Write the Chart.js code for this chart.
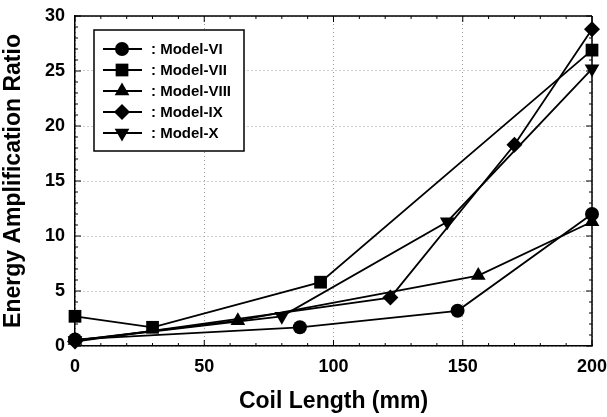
<!DOCTYPE html>
<html>
<head>
<meta charset="utf-8">
<script src="https://cdn.jsdelivr.net/npm/chart.js@4.4.1/dist/chart.umd.min.js"></script>
<style>
  html, body { margin: 0; padding: 0; background: #fff; }
  #wrap { width: 607px; height: 417px; }
</style>
</head>
<body>
<div id="wrap"><canvas id="chartCoil" width="607" height="417"></canvas></div>
<script>
// values
var modelNames = [": Model-VI", ": Model-VII", ": Model-VIII", ": Model-IX", ": Model-X"];

var vi_len   = [0, 87, 148, 200];
var vi_ratio = [0.6, 1.7, 3.2, 12.0];

var vii_len   = [0, 30, 95, 200];
var vii_ratio = [2.7, 1.7, 5.8, 26.9];

var viii_len   = [0, 63, 156, 200];
var viii_ratio = [0.5, 2.3, 6.4, 11.3];

var ix_len   = [0, 122, 170, 200];
var ix_ratio = [0.4, 4.4, 18.3, 28.8];

var x_len   = [0, 80, 144, 200];
var x_ratio = [0.5, 2.7, 11.3, 25.2];

var xTicks = [0, 50, 100, 150, 200];
var yTicks = [0, 5, 10, 15, 20, 25, 30];

var FONT = "'Liberation Sans', Arial, Helvetica, sans-serif";

function pairs(xs, ys) {
	var out = [];
	for (var i = 0; i < xs.length; i++) out.push({ x: xs[i], y: ys[i] });
	return out;
}

function series(label, xs, ys, style, radius, rotation) {
	return {
		label: label,
		data: pairs(xs, ys),
		borderColor: '#000',
		backgroundColor: '#000',
		borderWidth: 1.8,
		pointStyle: style,
		pointRadius: radius,
		pointRotation: rotation || 0,
		pointBorderWidth: 0,
		pointBackgroundColor: '#000',
		tension: 0,
		clip: false
	};
}

// inner ticks + top/right frame
var frameTicks = {
	id: 'frameTicks',
	afterDatasetsDraw: function(chart) {
		var ctx = chart.ctx, a = chart.chartArea;
		var xs = chart.scales.x, ys = chart.scales.y;
		ctx.save();
		ctx.strokeStyle = '#000';
		ctx.lineWidth = 1.5;
		ctx.beginPath();
		ctx.moveTo(a.left, a.top); ctx.lineTo(a.right, a.top);
		ctx.moveTo(a.right, a.top); ctx.lineTo(a.right, a.bottom);
		ctx.stroke();
		ctx.lineWidth = 1;
		ctx.beginPath();
		for (var v = xs.min; v <= xs.max; v += 10) {
			var px = xs.getPixelForValue(v);
			var len = (v % 50 === 0) ? 6 : 3;
			ctx.moveTo(px, a.bottom); ctx.lineTo(px, a.bottom - len);
			ctx.moveTo(px, a.top); ctx.lineTo(px, a.top + len);
		}
		for (var w = ys.min; w <= ys.max; w += 1) {
			var py = ys.getPixelForValue(w);
			var l2 = (w % 5 === 0) ? 6 : 3;
			ctx.moveTo(a.left, py); ctx.lineTo(a.left + l2, py);
			ctx.moveTo(a.right, py); ctx.lineTo(a.right - l2, py);
		}
		ctx.stroke();
		ctx.restore();
	}
};

// boxed legend inside the plot, line sample with marker
var boxLegend = {
	id: 'boxLegend',
	afterDraw: function(chart) {
		var ctx = chart.ctx;
		var bx = 94, by = 30, bw = 150, bh = 121;
		ctx.save();
		ctx.fillStyle = '#fff';
		ctx.fillRect(bx, by, bw, bh);
		ctx.strokeStyle = '#000';
		ctx.lineWidth = 1.5;
		ctx.strokeRect(bx, by, bw, bh);
		ctx.font = 'bold 15px ' + FONT;
		ctx.textBaseline = 'middle';
		ctx.textAlign = 'left';
		chart.data.datasets.forEach(function(ds, i) {
			var cy = by + 19 + i * 21;
			ctx.strokeStyle = '#000';
			ctx.fillStyle = '#000';
			ctx.lineWidth = 1.8;
			ctx.beginPath();
			ctx.moveTo(bx + 9, cy); ctx.lineTo(bx + 48, cy);
			ctx.stroke();
			Chart.helpers.drawPoint(ctx, {
				pointStyle: ds.pointStyle,
				radius: ds.pointRadius,
				rotation: ds.pointRotation,
				borderWidth: 0
			}, bx + 28, cy);
			ctx.fillStyle = '#000';
			ctx.fillText(ds.label, bx + 57, cy + 1);
		});
		ctx.restore();
	}
};

Chart.defaults.font.family = FONT;
Chart.defaults.color = '#000';

var coilChart = new Chart(document.getElementById('chartCoil').getContext('2d'), {
	type: 'line',
	data: {
		datasets: [
			series(modelNames[0], vi_len, vi_ratio, 'circle', 7),
			series(modelNames[1], vii_len, vii_ratio, 'rect', 9),
			series(modelNames[2], viii_len, viii_ratio, 'triangle', 8.5),
			series(modelNames[3], ix_len, ix_ratio, 'rectRot', 8),
			series(modelNames[4], x_len, x_ratio, 'triangle', 8.5, 180)
		]
	},
	plugins: [frameTicks, boxLegend],
	options: {
		responsive: false,
		animation: false,
		devicePixelRatio: 1,
		layout: { padding: { top: 16, right: 15, left: 0, bottom: 0 } },
		plugins: { legend: { display: false }, tooltip: { enabled: false } },
		scales: {
			x: {
				type: 'linear',
				min: 0, max: 200,
				afterBuildTicks: function(s) { s.ticks = xTicks.map(function(v) { return { value: v }; }); },
				afterFit: function(s) { s.height = 71; s.paddingLeft = 0; s.paddingRight = 0; },
				ticks: { padding: 10, font: { size: 18, weight: 'bold' }, color: '#000', maxRotation: 0 },
				grid: { color: '#9a9a9a', lineWidth: 1, drawTicks: false },
				border: { display: true, color: '#000', width: 1.5, dash: [1, 3] },
				title: { display: true, text: 'Coil Length (mm)', font: { size: 23, weight: 'bold' }, padding: { top: 0, bottom: 2 } }
			},
			y: {
				type: 'linear',
				min: 0, max: 30,
				afterBuildTicks: function(s) { s.ticks = yTicks.map(function(v) { return { value: v }; }); },
				afterFit: function(s) { s.width = 75; s.paddingTop = 0; s.paddingBottom = 0; },
				ticks: { padding: 10, font: { size: 18, weight: 'bold' }, color: '#000' },
				grid: { color: '#9a9a9a', lineWidth: 1, drawTicks: false },
				border: { display: true, color: '#000', width: 1.5, dash: [1, 3] },
				title: { display: true, text: 'Energy Amplification Ratio', font: { size: 23, weight: 'bold' }, padding: { top: 0, bottom: 0 } }
			}
		}
	}
});
</script>
</body>
</html>
